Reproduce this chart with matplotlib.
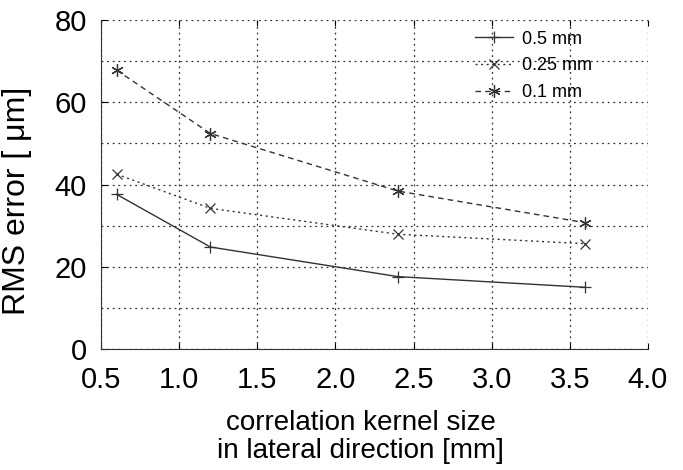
import matplotlib
matplotlib.use('Agg')
import matplotlib.pyplot as plt

plt.rcParams['font.family'] = ['Liberation Sans', 'DejaVu Sans']

kernel = [0.6, 1.2, 2.4, 3.6]
err_05 = [37.6, 24.8, 17.6, 15.0]
err_025 = [42.5, 34.2, 27.9, 25.6]
err_01 = [67.8, 52.4, 38.4, 30.7]
labels = ['0.5 mm', '0.25 mm', '0.1 mm']

fig = plt.figure(figsize=(6.83, 4.70), dpi=100)
ax = fig.add_axes([101/683, 121/470, 547/683, 329/470])

ax.plot(kernel, err_05, color='#333333', lw=1.0, ls='-', marker='+', ms=8, mew=0.9, label=labels[0])
ax.plot(kernel, err_025, color='#333333', lw=1.0, ls=(0, (1.5, 2.5)), marker='x', ms=7, mew=0.9, label=labels[1])
ax.plot(kernel, err_01, color='#333333', lw=1.0, ls=(0, (4, 3)), marker=(6, 2, 0), ms=9, mew=0.9, label=labels[2])

ax.set_xlim(0.5, 4.0)
ax.set_ylim(0, 80)
ax.set_xticks([0.5, 1.0, 1.5, 2.0, 2.5, 3.0, 3.5, 4.0])
ax.set_yticks([0, 20, 40, 60, 80])
ax.set_yticks(range(0, 81, 10), minor=True)
ax.tick_params(which='minor', length=0)
ax.tick_params(axis='both', labelsize=21, direction='in', length=4, top=True, right=False)
ax.tick_params(axis='x', pad=12)
ax.tick_params(axis='y', pad=10)
ax.set_xticklabels(['0.5', '1.0', '1.5', '2.0', '2.5', '3.0', '3.5', '4.0'])
ax.grid(True, which='both', ls=(0, (1.5, 3)), color='#333333', lw=0.9)
for s in ['top', 'right']:
    ax.spines[s].set_visible(False)
ax.spines['left'].set_color('#333333')
ax.spines['bottom'].set_color('#333333')

ax.set_ylabel('RMS error [ μm]', fontsize=23)
ax.yaxis.set_label_coords(-0.126, 0.45, transform=ax.transAxes)
ax.set_xlabel('correlation kernel size\nin lateral direction [mm]', fontsize=20, linespacing=1.12)
ax.xaxis.set_label_coords(0.475, -0.185, transform=ax.transAxes)
ax.xaxis.label.set_va('top')

ax.legend(loc='upper left', frameon=False, fontsize=13, handlelength=2.1,
          handletextpad=0.5, bbox_to_anchor=(0.684, 0.968), borderaxespad=0,
          borderpad=0, labelspacing=0.55)

fig.savefig('out.png', dpi=100)
